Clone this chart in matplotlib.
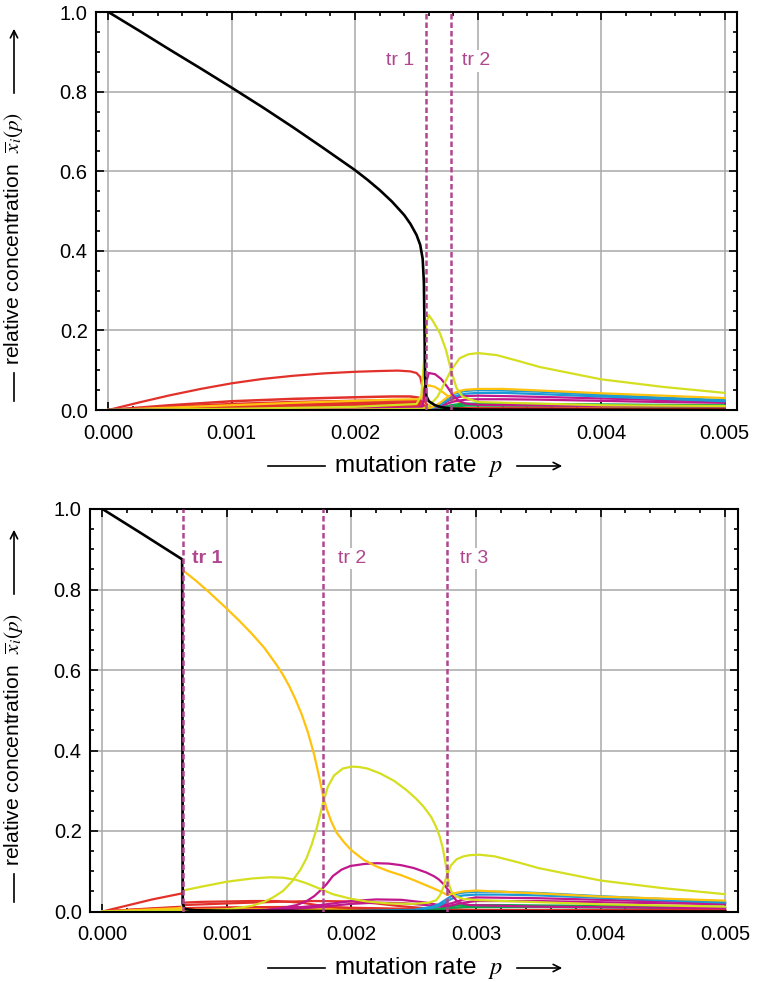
import numpy as np
import matplotlib
matplotlib.use("Agg")
import matplotlib.pyplot as plt
from matplotlib.lines import Line2D
from matplotlib.patches import FancyArrowPatch
from matplotlib.ticker import MultipleLocator, FormatStrFormatter

plt.rcParams['font.family'] = ['Liberation Sans', 'DejaVu Sans']
plt.rcParams['mathtext.fontset'] = 'stix'

W, H = 757, 982

# colours of the sequence classes
BLACK = '#000000'
RED = '#e2302a'
LIME = '#d4df1f'
GOLD = '#ffc20e'
MAGENTA = '#c0178d'
BLUE = '#1b9ad6'
GREEN = '#0aa64a'
TRCOL = '#b0468f'
GRID = '#a8a8a8'

# ---------------- upper panel (p in units of 1e-3) ----------------
tr_top = [2.575, 2.78]

p_master_top = [0, 0.25, 0.5, 0.75, 1.0, 1.25, 1.5, 1.75, 2.0, 2.1, 2.2, 2.3, 2.4, 2.45, 2.5, 2.53, 2.55, 2.56,
                2.565, 2.57, 2.58, 2.6, 2.65, 2.7, 2.8, 3.0, 5.0]
x_master_top = [1.0, 0.953, 0.905, 0.858, 0.81, 0.761, 0.71, 0.657, 0.603, 0.579, 0.553, 0.524, 0.49, 0.468, 0.44,
                0.415, 0.38, 0.32, 0.20, 0.08, 0.035, 0.022, 0.012, 0.007, 0.003, 0.001, 0.0]

p_red_top = [0, 0.25, 0.5, 0.75, 1.0, 1.25, 1.5, 1.75, 2.0, 2.2, 2.35, 2.45, 2.5, 2.53, 2.55, 2.57, 2.6, 3.0, 5.0]
x_red_top = [0, 0.019, 0.037, 0.053, 0.067, 0.078, 0.086, 0.092, 0.096, 0.098, 0.099, 0.097, 0.093, 0.083, 0.055,
             0.020, 0.008, 0.004, 0.003]

p_low_top = [0, 0.25, 0.5, 1.0, 1.5, 2.0, 2.3, 2.45, 2.52, 2.56, 2.6, 2.7, 3.0, 4.0, 5.0]
red_band_top = [
    [0, 0.006, 0.012, 0.022, 0.028, 0.032, 0.034, 0.034, 0.031, 0.012, 0.005, 0.004, 0.004, 0.003, 0.003],
    [0, 0.004, 0.008, 0.015, 0.020, 0.023, 0.024, 0.024, 0.022, 0.009, 0.004, 0.003, 0.003, 0.003, 0.002],
    [0, 0.003, 0.006, 0.011, 0.015, 0.018, 0.019, 0.019, 0.018, 0.007, 0.003, 0.002, 0.002, 0.002, 0.002],
    [0, 0.002, 0.005, 0.009, 0.012, 0.015, 0.016, 0.016, 0.015, 0.006, 0.003, 0.002, 0.002, 0.002, 0.001],
    [0, 0.002, 0.004, 0.007, 0.010, 0.012, 0.013, 0.013, 0.012, 0.005, 0.002, 0.002, 0.002, 0.001, 0.001],
    [0, 0.001, 0.003, 0.005, 0.007, 0.009, 0.010, 0.010, 0.009, 0.004, 0.002, 0.001, 0.001, 0.001, 0.001],
    [0, 0.001, 0.002, 0.003, 0.005, 0.006, 0.007, 0.007, 0.006, 0.003, 0.001, 0.001, 0.001, 0.001, 0.001],
    [0, 0.0005, 0.001, 0.002, 0.003, 0.003, 0.004, 0.004, 0.004, 0.002, 0.001, 0.001, 0.001, 0.001, 0.0],
]

p_gold1_top = [0, 0.5, 1.0, 1.5, 2.0, 2.3, 2.5, 2.55, 2.58, 2.6, 2.65, 2.7, 2.75, 2.8, 2.9, 3.0, 4.0, 5.0]
x_gold1_top = [0, 0.006, 0.012, 0.018, 0.023, 0.026, 0.027, 0.030, 0.058, 0.062, 0.058, 0.048, 0.036, 0.025, 0.015,
               0.012, 0.009, 0.008]

p_mag1_top = [0, 1.0, 2.0, 2.5, 2.55, 2.57, 2.6, 2.65, 2.7, 2.75, 2.8, 2.85, 2.9, 3.0, 4.0, 5.0]
x_mag1_top = [0, 0.002, 0.004, 0.006, 0.010, 0.060, 0.093, 0.090, 0.078, 0.058, 0.035, 0.022, 0.016, 0.013, 0.010, 0.009]

p_lime1_top = [0, 1.0, 2.0, 2.5, 2.54, 2.56, 2.58, 2.6, 2.63, 2.69, 2.74, 2.78, 2.825, 2.875, 3.0, 4.0, 5.0]
x_lime1_top = [0, 0.003, 0.008, 0.015, 0.038, 0.12, 0.22, 0.238, 0.225, 0.193, 0.15, 0.10, 0.055, 0.033, 0.020,
               0.012, 0.010]

p_lime2_top = [0, 2.0, 2.55, 2.6, 2.67, 2.74, 2.78, 2.85, 2.92, 3.0, 3.15, 3.34, 3.5, 4.0, 4.5, 5.0]
x_lime2_top = [0, 0.001, 0.003, 0.010, 0.033, 0.075, 0.10, 0.13, 0.14, 0.143, 0.138, 0.122, 0.108, 0.077, 0.058, 0.043]

p_post_top = [0, 2.5, 2.6, 2.65, 2.7, 2.75, 2.8, 2.85, 2.9, 3.0, 3.2, 3.5, 4.0, 4.5, 5.0]
x_gold2_top = [0, 0.001, 0.004, 0.010, 0.020, 0.032, 0.042, 0.048, 0.051, 0.053, 0.053, 0.049, 0.042, 0.036, 0.030]
x_blue1_top = [0, 0.001, 0.004, 0.009, 0.018, 0.030, 0.040, 0.045, 0.048, 0.050, 0.049, 0.046, 0.038, 0.031, 0.025]
x_blue2_top = [0, 0.001, 0.003, 0.007, 0.014, 0.024, 0.033, 0.038, 0.041, 0.043, 0.043, 0.040, 0.034, 0.028, 0.022]
x_mag2_top = [0, 0.001, 0.003, 0.007, 0.013, 0.022, 0.029, 0.033, 0.035, 0.036, 0.035, 0.033, 0.029, 0.025, 0.021]
x_mag3_top = [0, 0.001, 0.002, 0.005, 0.010, 0.016, 0.021, 0.024, 0.026, 0.027, 0.027, 0.026, 0.023, 0.020, 0.018]
x_green1_top = [0, 0.0005, 0.002, 0.004, 0.007, 0.010, 0.013, 0.015, 0.016, 0.016, 0.016, 0.015, 0.014, 0.013, 0.012]
x_green2_top = [0, 0.0005, 0.001, 0.003, 0.005, 0.007, 0.009, 0.010, 0.011, 0.011, 0.011, 0.011, 0.010, 0.009, 0.009]

# ---------------- lower panel ----------------
tr_bot = [0.643, 1.77, 2.77]

p_master_bot = [0, 0.32, 0.64, 0.645, 0.66, 0.75, 1.0, 2.0, 5.0]
x_master_bot = [1.0, 0.938, 0.875, 0.02, 0.006, 0.003, 0.002, 0.001, 0.0]

p_gold_bot = [0, 0.3, 0.6, 0.64, 0.645, 0.75, 0.85, 1.0, 1.1, 1.2, 1.3, 1.4, 1.45, 1.5, 1.55, 1.6, 1.65, 1.7, 1.74,
              1.77, 1.8, 1.84, 1.88, 1.94, 2.0, 2.1, 2.2, 2.3, 2.4, 2.5, 2.6, 2.7, 2.77, 2.82, 2.9, 3.0, 3.5, 4.0, 5.0]
x_gold_bot = [0, 0.004, 0.008, 0.010, 0.848, 0.822, 0.795, 0.752, 0.722, 0.690, 0.655, 0.612, 0.588, 0.560, 0.527,
              0.490, 0.445, 0.390, 0.335, 0.290, 0.255, 0.222, 0.196, 0.172, 0.152, 0.128, 0.112, 0.100, 0.090,
              0.078, 0.065, 0.052, 0.041, 0.045, 0.050, 0.052, 0.045, 0.037, 0.027]

p_limeA_bot = [0, 0.3, 0.64, 0.645, 0.66, 0.8, 1.0, 1.2, 1.345, 1.45, 1.55, 1.64, 1.75, 1.85, 1.99, 2.12, 2.3, 2.5,
               2.62, 2.68, 2.71, 2.74, 2.765, 2.8, 2.845, 2.9, 2.95, 3.03, 3.15, 3.34, 3.5, 4.0, 4.5, 5.0]
x_limeA_bot = [0, 0.001, 0.003, 0.050, 0.053, 0.062, 0.074, 0.082, 0.085, 0.084, 0.079, 0.070, 0.056, 0.043, 0.032,
               0.025, 0.020, 0.019, 0.022, 0.028, 0.040, 0.062, 0.090, 0.115, 0.130, 0.137, 0.140, 0.141, 0.137,
               0.122, 0.108, 0.077, 0.058, 0.043]

p_limeB_bot = [0, 0.64, 1.0, 1.2, 1.3, 1.37, 1.45, 1.52, 1.59, 1.64, 1.68, 1.72, 1.77, 1.81, 1.86, 1.93, 2.0, 2.06,
               2.13, 2.23, 2.34, 2.44, 2.52, 2.58, 2.64, 2.68, 2.71, 2.735, 2.755, 2.77, 2.785, 2.805, 2.84, 2.9,
               3.03, 4.0, 5.0]
x_limeB_bot = [0, 0.001, 0.005, 0.014, 0.024, 0.035, 0.051, 0.074, 0.104, 0.133, 0.166, 0.206, 0.268, 0.31, 0.338,
               0.355, 0.360, 0.359, 0.355, 0.343, 0.325, 0.302, 0.28, 0.26, 0.235, 0.21, 0.185, 0.155, 0.12,
               0.09, 0.065, 0.048, 0.037, 0.031, 0.028, 0.018, 0.012]

p_mag1_bot = [0, 1.0, 1.32, 1.45, 1.56, 1.64, 1.7, 1.75, 1.8, 1.85, 1.92, 1.99, 2.1, 2.2, 2.3, 2.4, 2.5, 2.6, 2.66,
              2.7, 2.74, 2.78, 2.805, 2.845, 2.9, 2.95, 3.5, 5.0]
x_mag1_bot = [0, 0.001, 0.004, 0.009, 0.016, 0.026, 0.038, 0.052, 0.068, 0.088, 0.104, 0.113, 0.118, 0.120, 0.119,
              0.115, 0.108, 0.097, 0.088, 0.080, 0.068, 0.052, 0.041, 0.026, 0.019, 0.016, 0.012, 0.008]

p_red1_bot = [0, 0.2, 0.4, 0.64, 0.645, 0.8, 1.0, 1.2, 1.4, 1.6, 1.8, 2.0, 2.3, 2.6, 2.8, 3.0, 5.0]
x_red1_bot = [0, 0.015, 0.030, 0.045, 0.022, 0.024, 0.025, 0.026, 0.026, 0.022, 0.012, 0.008, 0.006, 0.005, 0.004,
              0.003, 0.002]

p_red2_bot = [0, 0.3, 0.64, 0.645, 1.0, 1.4, 1.7, 2.0, 2.2, 2.4, 2.6, 2.8, 3.0, 5.0]
x_red2_bot = [0, 0.006, 0.012, 0.016, 0.020, 0.024, 0.026, 0.025, 0.020, 0.013, 0.008, 0.005, 0.004, 0.003]

p_band_bot = [0, 0.3, 0.64, 0.645, 1.0, 1.5, 2.0, 2.5, 2.8, 3.0, 5.0]
red_band_bot = [
    [0, 0.005, 0.010, 0.008, 0.010, 0.011, 0.009, 0.006, 0.004, 0.003, 0.002],
    [0, 0.003, 0.007, 0.005, 0.007, 0.008, 0.006, 0.004, 0.003, 0.002, 0.001],
    [0, 0.002, 0.004, 0.003, 0.004, 0.005, 0.004, 0.003, 0.002, 0.001, 0.001],
]
x_goldlow_bot = [0, 0.003, 0.006, 0.004, 0.005, 0.006, 0.005, 0.004, 0.003, 0.002, 0.002]

p_mag_small_bot = [0, 1.0, 1.4, 1.7, 2.0, 2.2, 2.4, 2.6, 2.7, 2.8, 2.9, 3.0, 3.5, 4.0, 5.0]
x_mag2_bot = [0, 0.001, 0.005, 0.014, 0.026, 0.030, 0.029, 0.022, 0.016, 0.020, 0.030, 0.035, 0.033, 0.029, 0.021]
x_mag3_bot = [0, 0.001, 0.004, 0.010, 0.019, 0.022, 0.021, 0.016, 0.012, 0.015, 0.022, 0.026, 0.026, 0.023, 0.018]

p_post_bot = [0, 2.0, 2.5, 2.65, 2.7, 2.75, 2.8, 2.85, 2.9, 3.0, 3.2, 3.5, 4.0, 4.5, 5.0]
x_blue1_bot = [0, 0.001, 0.004, 0.012, 0.018, 0.028, 0.038, 0.044, 0.047, 0.049, 0.049, 0.046, 0.038, 0.031, 0.025]
x_blue2_bot = [0, 0.001, 0.003, 0.009, 0.014, 0.022, 0.031, 0.037, 0.040, 0.042, 0.042, 0.040, 0.034, 0.028, 0.022]
x_green1_bot = [0, 0.0005, 0.002, 0.005, 0.007, 0.010, 0.013, 0.015, 0.016, 0.016, 0.016, 0.015, 0.014, 0.013, 0.012]
x_green2_bot = [0, 0.0005, 0.001, 0.003, 0.005, 0.007, 0.009, 0.010, 0.011, 0.011, 0.011, 0.011, 0.010, 0.009, 0.009]


def curve(ax, p, x, color, lw=1.6, z=2):
    ax.plot(np.asarray(p) * 1e-3, x, color=color, lw=lw, zorder=z, solid_joinstyle='round')


def style_axes(ax):
    ax.set_xlim(-0.0001, 0.0051)
    ax.set_ylim(0, 1.0)
    ax.xaxis.set_major_locator(MultipleLocator(0.001))
    ax.xaxis.set_minor_locator(MultipleLocator(0.0002))
    ax.yaxis.set_major_locator(MultipleLocator(0.2))
    ax.yaxis.set_minor_locator(MultipleLocator(0.05))
    ax.xaxis.set_major_formatter(FormatStrFormatter('%.3f'))
    ax.yaxis.set_major_formatter(FormatStrFormatter('%.1f'))
    ax.grid(True, which='major', color=GRID, lw=1.1, zorder=0)
    ax.set_axisbelow(True)
    ax.tick_params(which='both', direction='in', top=True, right=True, width=1.2, labelsize=14.5)
    ax.tick_params(which='major', length=6)
    ax.tick_params(which='minor', length=3)
    ax.tick_params(axis='x', pad=10)
    ax.tick_params(axis='y', pad=6)
    for s in ax.spines.values():
        s.set_linewidth(1.5)


def transitions(ax, ps, labels):
    for p, (txt, dx, ha, weight) in zip(ps, labels):
        ax.axvline(p * 1e-3, color=TRCOL, lw=1.8, ls=(0, (2.2, 1.2)), zorder=6)
        ax.text((p + dx) * 1e-3, 0.877, txt, color=TRCOL, fontsize=14, ha=ha, va='center',
                fontweight=weight, zorder=7,
                bbox=dict(facecolor='white', edgecolor='none', pad=1.5))


def fpx(x, y):
    return (x / W, 1 - y / H)


def xlabel(fig, y):
    fig.add_artist(Line2D([268 / W, 325 / W], [1 - y / H] * 2, color='k', lw=1.2))
    fig.text(418 / W, 1 - y / H, 'mutation rate  $p$', ha='center', va='center', fontsize=17.5)
    fig.add_artist(FancyArrowPatch(fpx(514, y), fpx(565, y), arrowstyle='->', mutation_scale=13,
                                   lw=1.2, color='k', transform=fig.transFigure))


def ylabel(fig, y0):
    fig.add_artist(Line2D([14 / W] * 2, [1 - (y0 + 401) / H, 1 - (y0 + 373) / H], color='k', lw=1.2))
    fig.text(14 / W, 1 - (y0 + 238) / H, r'relative concentration  $\overline{x}_i(p)$', rotation=90,
             ha='center', va='center', fontsize=15.2)
    fig.add_artist(FancyArrowPatch(fpx(14, y0 + 96), fpx(14, y0 + 26), arrowstyle='->', mutation_scale=13,
                                   lw=1.2, color='k', transform=fig.transFigure))


fig = plt.figure(figsize=(W / 100, H / 100), dpi=100)
ax1 = fig.add_axes([96 / W, 1 - 410 / H, 641 / W, 398 / H])
ax2 = fig.add_axes([90 / W, 1 - 911.5 / H, 647.5 / W, 402.5 / H])

# upper panel
for band in red_band_top:
    curve(ax1, p_low_top, band, RED, lw=1.8)
curve(ax1, p_gold1_top, x_gold1_top, GOLD)
curve(ax1, p_red_top, x_red_top, RED)
curve(ax1, p_post_top, x_green2_top, GREEN)
curve(ax1, p_post_top, x_green1_top, GREEN)
curve(ax1, p_post_top, x_mag3_top, MAGENTA)
curve(ax1, p_post_top, x_mag2_top, MAGENTA)
curve(ax1, p_post_top, x_blue2_top, BLUE)
curve(ax1, p_post_top, x_blue1_top, BLUE)
curve(ax1, p_post_top, x_gold2_top, GOLD)
curve(ax1, p_mag1_top, x_mag1_top, MAGENTA)
curve(ax1, p_lime2_top, x_lime2_top, LIME)
curve(ax1, p_lime1_top, x_lime1_top, LIME)
curve(ax1, p_master_top, x_master_top, BLACK, lw=1.9, z=4)
style_axes(ax1)
transitions(ax1, tr_top, [('tr 1', -0.09, 'right', 'normal'), ('tr 2', 0.09, 'left', 'normal')])

# lower panel
for band in red_band_bot:
    curve(ax2, p_band_bot, band, RED, lw=1.8)
curve(ax2, p_band_bot, x_goldlow_bot, GOLD)
curve(ax2, p_red2_bot, x_red2_bot, RED)
curve(ax2, p_red1_bot, x_red1_bot, RED)
curve(ax2, p_post_bot, x_green2_bot, GREEN)
curve(ax2, p_post_bot, x_green1_bot, GREEN)
curve(ax2, p_mag_small_bot, x_mag3_bot, MAGENTA)
curve(ax2, p_mag_small_bot, x_mag2_bot, MAGENTA)
curve(ax2, p_post_bot, x_blue2_bot, BLUE)
curve(ax2, p_post_bot, x_blue1_bot, BLUE)
curve(ax2, p_mag1_bot, x_mag1_bot, MAGENTA)
curve(ax2, p_gold_bot, x_gold_bot, GOLD)
curve(ax2, p_limeA_bot, x_limeA_bot, LIME)
curve(ax2, p_limeB_bot, x_limeB_bot, LIME)
curve(ax2, p_master_bot, x_master_bot, BLACK, lw=1.9, z=4)
style_axes(ax2)
transitions(ax2, tr_bot, [('tr 1', 0.08, 'left', 'bold'), ('tr 2', 0.12, 'left', 'normal'),
                          ('tr 3', 0.10, 'left', 'normal')])

xlabel(fig, 466)
xlabel(fig, 968)
ylabel(fig, 0)
ylabel(fig, 501)

fig.savefig('out.png', dpi=100)
